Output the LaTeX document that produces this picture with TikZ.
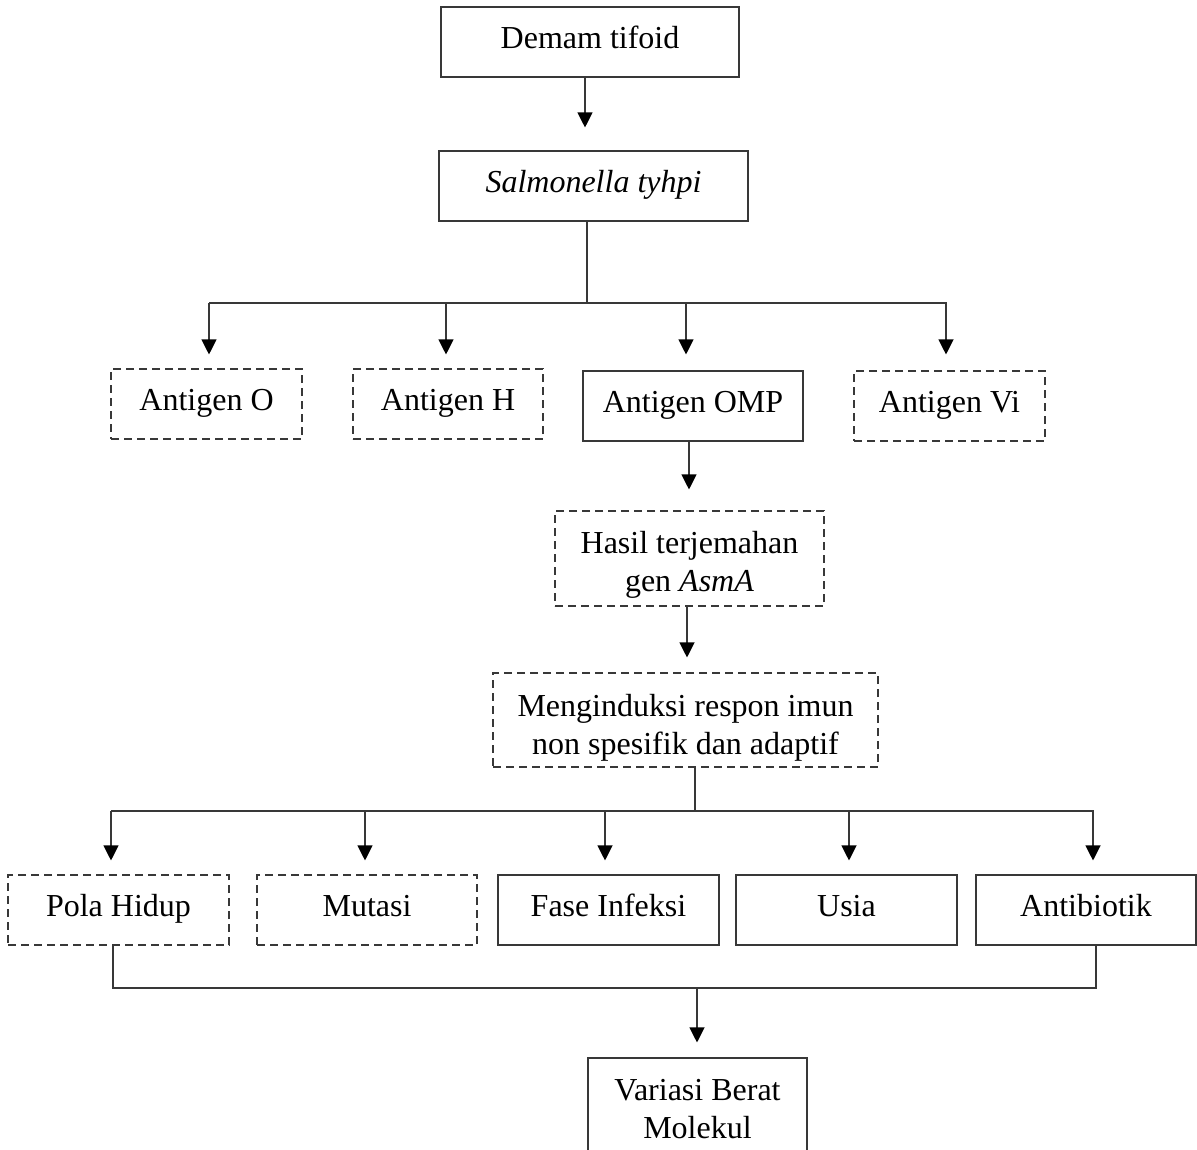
\documentclass[tikz,border=0pt]{standalone}
\usepackage{fontspec}
\setmainfont{Liberation Serif}
\usetikzlibrary{arrows.meta}
\newcommand{\mlines}[2]{\raisebox{-#1}[\height][\depth]{\begin{tabular}{@{}c@{}}#2\end{tabular}}}
\tikzset{
  box/.style={draw=black!78, line width=1.1pt, inner sep=0pt, align=center,
    font=\fontsize{32}{38}\selectfont},
  one/.style={text height=23pt, text depth=10pt},
  dbox/.style={box, dash pattern=on 8pt off 5pt},
  ln/.style={draw=black!78, line width=1.1pt},
  arr/.style={ln, -{Triangle[length=15pt,width=15pt,color=black]}},
}
\begin{document}
\begin{tikzpicture}[x=1pt,y=-1pt]
\useasboundingbox (0,0) rectangle (1197,1149);
% nodes
\node[box,one,minimum width=298pt,minimum height=70pt] (demam) at (590,42) {Demam tifoid};
\node[box,one,minimum width=309pt,minimum height=70pt] (salm) at (593.5,186) {\itshape Salmonella tyhpi};
\node[dbox,one,minimum width=191pt,minimum height=70pt] (agO) at (206.5,404) {Antigen O};
\node[dbox,one,minimum width=190pt,minimum height=70pt] (agH) at (448,404) {Antigen H};
\node[box,one,minimum width=220pt,minimum height=70pt] (omp) at (693,406) {Antigen OMP};
\node[dbox,one,minimum width=191pt,minimum height=70pt] (vi) at (949.5,406) {Antigen Vi};
\node[dbox,minimum width=269pt,minimum height=95pt] (hasil) at (689.5,558.5) {\mlines{6pt}{Hasil terjemahan\\gen \textit{AsmA}}};
\node[dbox,minimum width=385pt,minimum height=94pt] (meng) at (685.5,720) {\mlines{8pt}{Menginduksi respon imun\\non spesifik dan adaptif}};
\node[dbox,one,minimum width=221pt,minimum height=70pt] (pola) at (118.5,910) {Pola Hidup};
\node[dbox,one,minimum width=220pt,minimum height=70pt] (mut) at (367,910) {Mutasi};
\node[box,one,minimum width=221pt,minimum height=70pt] (fase) at (608.5,910) {Fase Infeksi};
\node[box,one,minimum width=221pt,minimum height=70pt] (usia) at (846.5,910) {Usia};
\node[box,one,minimum width=220pt,minimum height=70pt] (anti) at (1086,910) {Antibiotik};
\node[box,minimum width=219pt,minimum height=96pt] (var) at (697.5,1106) {\mlines{6pt}{Variasi Berat\\Molekul}};
% helper coordinates
\coordinate (xA) at (585,0);
\coordinate (xB) at (587,0);
\coordinate (b1) at (209,303);
\coordinate (b2) at (446,303);
\coordinate (b3) at (686,303);
\coordinate (b4) at (946,303);
\coordinate (bR) at (947,303);
\coordinate (xC) at (689,0);
\coordinate (xD) at (687,0);
\coordinate (m0) at (695,811);
\coordinate (c1) at (111,811);
\coordinate (c2) at (365,811);
\coordinate (c3) at (605,811);
\coordinate (c4) at (849,811);
\coordinate (c5) at (1093,811);
\coordinate (cR) at (1094,811);
\coordinate (xP) at (113,0);
\coordinate (xQ) at (1096,0);
\coordinate (d0) at (697,988);
% connectors
\draw[arr, shorten >=23pt] (demam.south -| xA) -- (salm.north -| xA);
\draw[ln] (salm.south -| xB) -- (b1 -| xB);
\draw[ln] (b1) -- (bR);
\draw[arr, shorten >=14pt] (b1) -- (agO.north -| b1);
\draw[arr, shorten >=14pt] (b2) -- (agH.north -| b2);
\draw[arr, shorten >=16pt] (b3) -- (omp.north -| b3);
\draw[arr, shorten >=16pt] (b4) -- (vi.north -| b4);
\draw[arr, shorten >=21pt] (omp.south -| xC) -- (hasil.north -| xC);
\draw[arr, shorten >=15pt] (hasil.south -| xD) -- (meng.north -| xD);
\draw[ln] (meng.south -| m0) -- (m0);
\draw[ln] (c1) -- (cR);
\draw[arr, shorten >=14pt] (c1) -- (pola.north -| c1);
\draw[arr, shorten >=14pt] (c2) -- (mut.north -| c2);
\draw[arr, shorten >=14pt] (c3) -- (fase.north -| c3);
\draw[arr, shorten >=14pt] (c4) -- (usia.north -| c4);
\draw[arr, shorten >=14pt] (c5) -- (anti.north -| c5);
\draw[ln] (pola.south -| xP) -- (d0 -| xP) -- (d0 -| xQ) -- (anti.south -| xQ);
\draw[arr, shorten >=15pt] (d0) -- (var.north -| d0);
\end{tikzpicture}
\end{document}
